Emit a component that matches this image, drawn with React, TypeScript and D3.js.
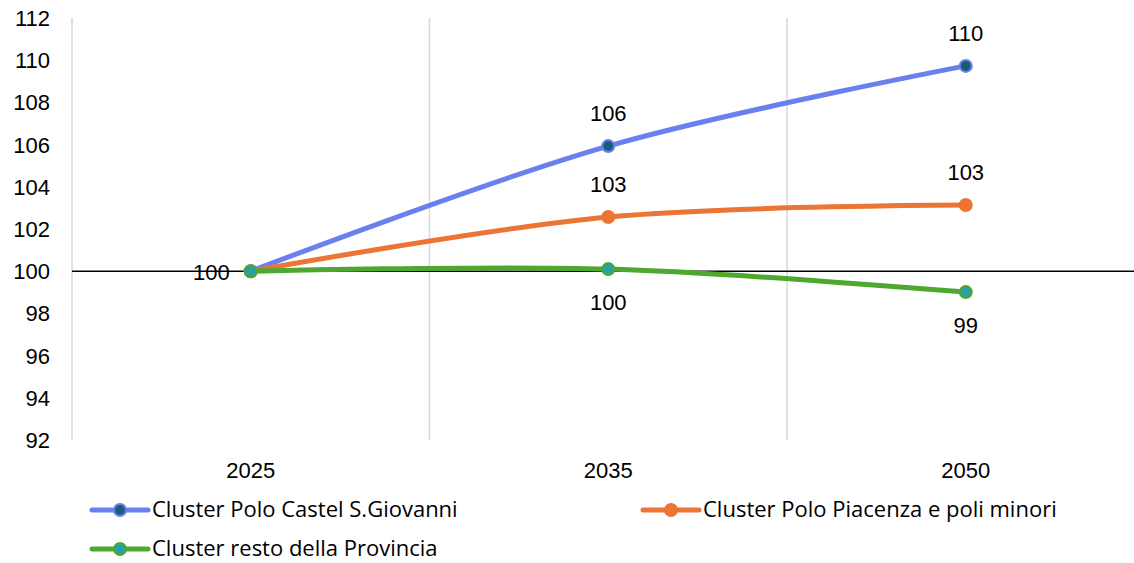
import React from "react";
import * as d3 from "d3";

const categories = ["2025", "2035", "2050"];
const seriesNames = [
  "Cluster Polo Castel S.Giovanni",
  "Cluster Polo Piacenza e poli minori",
  "Cluster resto della Provincia",
];
const castelValues = [100, 105.93, 109.73];
const piacenzaValues = [100, 102.57, 103.14];
const restoValues = [100, 100.1, 99.01];
const yTicks = [92, 94, 96, 98, 100, 102, 104, 106, 108, 110, 112];

const W = 1134;
const H = 563;
const NUM_FONT = "'Liberation Sans', Arial, sans-serif";
const LEG_FONT = "'Open Sans', 'Liberation Sans', sans-serif";

const series = [
  { name: seriesNames[0], values: castelValues, color: "#6A80EE", fill: "#1A5C7C", stroke: "#6A80EE", labelPos: "above" },
  { name: seriesNames[1], values: piacenzaValues, color: "#EC7434", fill: "#EC7434", stroke: "#EC7434", labelPos: "above" },
  { name: seriesNames[2], values: restoValues, color: "#4EA72E", fill: "#27A0A6", stroke: "#4EA72E", labelPos: "below" },
];

export default function App() {
  const left = 72;
  const band = 357.5;
  const x = d3.scaleBand().domain(categories).range([left, left + band * 3]).padding(0);
  const cx = (c: string) => (x(c) as number) + x.bandwidth() / 2;
  const y = d3.scaleLinear().domain([92, 112]).range([440, 18]);

  const line = d3
    .line<number>()
    .x((_, i) => cx(categories[i]))
    .y((v) => y(v))
    .curve(d3.curveCatmullRom.alpha(0.5));

  const gridXs = [0, 1, 2].map((i) => (x(categories[i]) as number));

  return (
    <svg width={W} height={H} style={{ position: "absolute", left: 0, top: 0, background: "#fff" }}>
      {gridXs.map((gx, i) => (
        <line key={i} x1={gx} x2={gx} y1={18} y2={440} stroke="#D9D9D9" strokeWidth={1.5} />
      ))}
      {yTicks.map((t) => (
        <text key={t} x={50} y={y(t)} dy="0.36em" textAnchor="end" fontSize={22} fontFamily={NUM_FONT} fill="#000">
          {t}
        </text>
      ))}
      <line x1={left} x2={W} y1={y(100)} y2={y(100)} stroke="#000" strokeWidth={1.5} />
      {categories.map((c) => (
        <text key={c} x={cx(c)} y={470} dy="0.36em" textAnchor="middle" fontSize={22} fontFamily={NUM_FONT} fill="#000">
          {c}
        </text>
      ))}
      {series.map((s) => (
        <path key={s.name} d={line(s.values) || ""} fill="none" stroke={s.color} strokeWidth={5} strokeLinecap="round" />
      ))}
      {series.map((s) =>
        s.values.map((v, i) => (
          <circle key={s.name + i} cx={cx(categories[i])} cy={y(v)} r={6} fill={s.fill} stroke={s.stroke} strokeWidth={2} />
        ))
      )}
      {series.map((s) =>
        s.values.map((v, i) => {
          if (i === 0) {
            if (s !== series[0]) return null;
            return (
              <text key={s.name + "l" + i} x={cx(categories[i]) - 21} y={y(v)} dy="0.42em" textAnchor="end" fontSize={22} fontFamily={NUM_FONT} fill="#000">
                {Math.round(v)}
              </text>
            );
          }
          const ly = s.labelPos === "above" ? y(v) - 33 : y(v) + 33;
          return (
            <text key={s.name + "l" + i} x={cx(categories[i])} y={ly} dy="0.36em" textAnchor="middle" fontSize={22} fontFamily={NUM_FONT} fill="#000">
              {Math.round(v)}
            </text>
          );
        })
      )}
      {[
        { s: series[0], lx: 92, ly: 510 },
        { s: series[1], lx: 643, ly: 510 },
        { s: series[2], lx: 92, ly: 549 },
      ].map(({ s, lx, ly }) => (
        <g key={s.name}>
          <line x1={lx} x2={lx + 56} y1={ly} y2={ly} stroke={s.color} strokeWidth={5} strokeLinecap="round" />
          <circle cx={lx + 28} cy={ly} r={6} fill={s.fill} stroke={s.stroke} strokeWidth={2} />
          <text x={lx + 60} y={ly} dy="0.34em" fontSize={22} fontFamily={LEG_FONT} fill="#000">
            {s.name}
          </text>
        </g>
      ))}
    </svg>
  );
}
